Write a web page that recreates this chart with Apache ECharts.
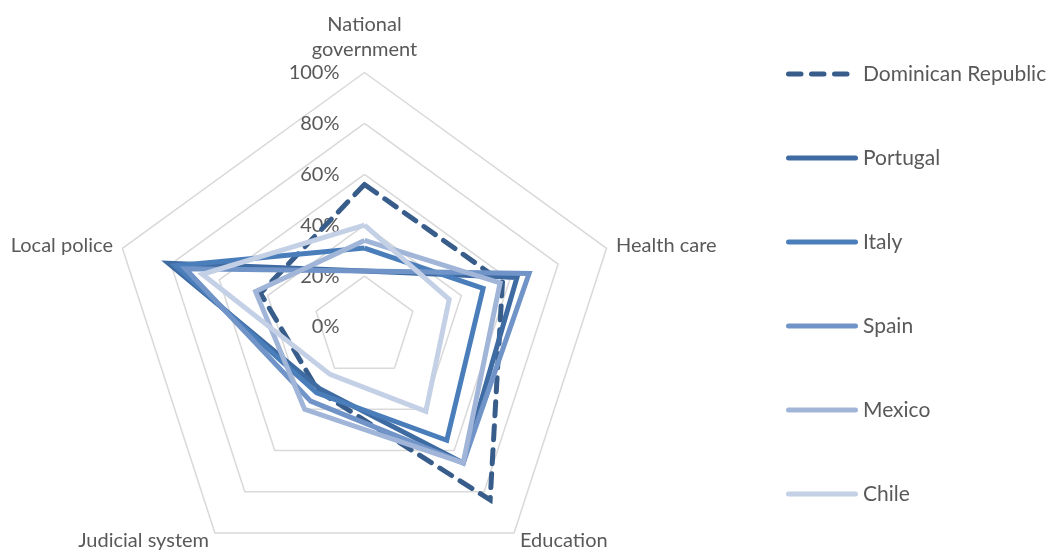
<!DOCTYPE html>
<html>
<head>
<meta charset="utf-8">
<script src="https://cdn.jsdelivr.net/npm/echarts@6/dist/echarts.min.js"></script>
<style>
  html, body { margin: 0; padding: 0; background: #fff; }
  #chart { width: 1058px; height: 551px; }
</style>
</head>
<body>
<div id="chart"></div>
<script>
// Axes in drawing order (ECharts radar runs counter-clockwise from the top)
const categories = ['National\ngovernment', 'Local police', 'Judicial system', 'Education', 'Health care'];
const tickLabels = ['0%', '20%', '40%', '60%', '80%', '100%'];

// Share of trust per institution (%), same order as categories
const dominicanRepublic = [56, 43, 31, 84, 57];
const portugal          = [22, 81, 30, 66, 63];
const italy             = [31, 78, 32, 55, 49];
const spain             = [22, 74, 36, 66, 68];
const mexico            = [34, 45, 40, 66, 56];
const chile             = [40, 67, 23, 41, 35];

const seriesNames = ['Dominican Republic', 'Portugal', 'Italy', 'Spain', 'Mexico', 'Chile'];
const seriesValues = [dominicanRepublic, portugal, italy, spain, mexico, chile];
const colors = ['#385d8a', '#3f6ba3', '#4a7ebb', '#7094c8', '#a0b5d8', '#c4d0e6'];

const FONT = 'Lato';
const TEXT = '#595959';
const CX = 364.5, CY = 327, R = 254.5;

const solidIcon = 'path://M2.5,0 L69.5,0 A2.5,2.5 0 0 1 69.5,5 L2.5,5 A2.5,2.5 0 0 1 2.5,0 Z';
const dashIcon = 'path://M2.5,0 L15,0 A2.5,2.5 0 0 1 15,5 L2.5,5 A2.5,2.5 0 0 1 2.5,0 Z ' +
                 'M25.5,0 L38,0 A2.5,2.5 0 0 1 38,5 L25.5,5 A2.5,2.5 0 0 1 25.5,0 Z ' +
                 'M48.5,0 L61,0 A2.5,2.5 0 0 1 61,5 L48.5,5 A2.5,2.5 0 0 1 48.5,0 Z ' +
                 'M71.9,2.4 L72,2.4 L72,2.6 L71.9,2.6 Z';

const chart = echarts.init(document.getElementById('chart'));

const series = seriesNames.map((name, i) => ({
  type: 'radar',
  name: name,
  symbol: 'none',
  silent: true,
  z: 2 + i,
  lineStyle: {
    color: colors[i],
    width: 5,
    type: i === 0 ? [14, 10] : 'solid',
    cap: i === 0 ? 'round' : 'butt',
    join: 'miter'
  },
  itemStyle: { color: colors[i] },
  data: [{ name: name, value: seriesValues[i] }]
}));

chart.setOption({
  animation: false,
  backgroundColor: '#fff',
  textStyle: { fontFamily: FONT },
  radar: {
    center: [CX, CY],
    radius: R,
    startAngle: 90,
    shape: 'polygon',
    splitNumber: 5,
    nameGap: 10,
    axisName: { color: TEXT, fontSize: 20, fontFamily: FONT, lineHeight: 25 },
    axisLine: { show: false },
    axisTick: { show: false },
    axisLabel: { show: false },
    splitArea: { show: false },
    splitLine: { lineStyle: { color: '#d9d9d9', width: 1.5 } },
    indicator: categories.map(c => ({ name: c, min: 0, max: 100 }))
  },
  // value scale shown along the upper axis
  grid: { left: CX, top: CY - R, height: R, width: 1, containLabel: false },
  xAxis: { type: 'value', show: false },
  yAxis: {
    type: 'value', min: 0, max: 100, interval: 20,
    axisLine: { show: false }, axisTick: { show: false }, splitLine: { show: false },
    axisLabel: {
      margin: 25, color: TEXT, fontSize: 20, fontFamily: FONT,
      formatter: v => tickLabels[Math.round(v / 20)]
    }
  },
  legend: {
    orient: 'vertical',
    left: 781,
    top: 57,
    itemWidth: 72,
    itemHeight: 5,
    itemGap: 60,
    symbolKeepAspect: false,
    selectedMode: false,
    textStyle: { color: TEXT, fontSize: 21, fontFamily: FONT, lineHeight: 24, padding: [0, 0, 0, 0] },
    data: seriesNames.map((n, i) => ({ name: n, icon: i === 0 ? dashIcon : solidIcon }))
  },
  series: series
});
</script>
</body>
</html>
